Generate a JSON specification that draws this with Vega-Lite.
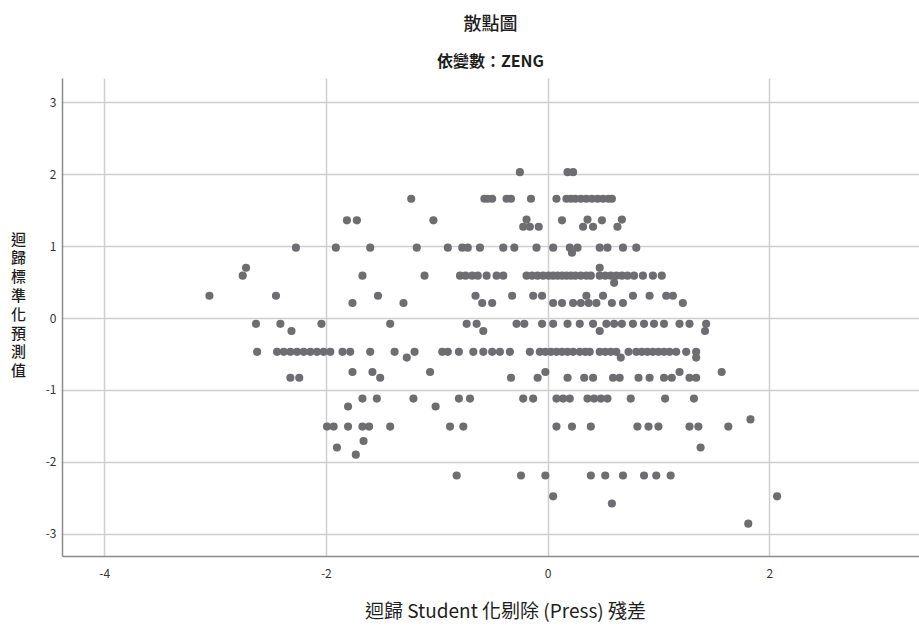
{
  "$schema": "https://vega.github.io/schema/vega-lite/v6.json",
  "width": 857,
  "height": 478,
  "autosize": {"type": "none"},
  "padding": {"left": 62, "top": 78, "right": 0, "bottom": 74},
  "background": "white",
  "title": {
    "text": "散點圖",
    "subtitle": "依變數：ZENG",
    "anchor": "middle",
    "font": "Liberation Sans Narrow, Noto Sans CJK TC",
    "fontSize": 18,
    "fontWeight": 500,
    "color": "#1e1e1e",
    "subtitleFont": "Liberation Sans Narrow, Noto Sans CJK TC",
    "subtitleFontSize": 16,
    "subtitleFontWeight": "bold",
    "subtitleColor": "#1e1e1e",
    "subtitlePadding": 20,
    "offset": 8
  },
  "config": {
    "view": {"stroke": null},
    "axis": {
      "grid": true,
      "gridColor": "#cfcfcf",
      "gridWidth": 1.5,
      "domainColor": "#8a8a8a",
      "domainWidth": 1.5,
      "ticks": false,
      "labelFont": "Liberation Sans Narrow, Noto Sans CJK TC",
      "labelFontSize": 12,
      "labelColor": "#333333",
      "labelExpr": "'' + datum.value",
      "titleFont": "Liberation Sans Narrow, Noto Sans CJK TC",
      "titleFontSize": 19,
      "titleFontWeight": "normal",
      "titleColor": "#1e1e1e"
    }
  },
  "data": {
    "values": [
      {"r": -0.25, "p": 2.03}, {"r": 0.18, "p": 2.03}, {"r": 0.23, "p": 2.03},
      {"r": -1.23, "p": 1.66}, {"r": -0.57, "p": 1.66}, {"r": -0.54, "p": 1.66}, {"r": -0.50, "p": 1.66}, {"r": -0.37, "p": 1.66}, {"r": -0.33, "p": 1.66}, {"r": -0.15, "p": 1.66}, {"r": 0.08, "p": 1.66}, {"r": 0.17, "p": 1.66}, {"r": 0.21, "p": 1.66}, {"r": 0.25, "p": 1.66}, {"r": 0.30, "p": 1.66}, {"r": 0.35, "p": 1.66}, {"r": 0.40, "p": 1.66}, {"r": 0.45, "p": 1.66}, {"r": 0.50, "p": 1.66}, {"r": 0.55, "p": 1.66}, {"r": 0.58, "p": 1.66},
      {"r": -1.81, "p": 1.36}, {"r": -1.72, "p": 1.36}, {"r": -1.03, "p": 1.36}, {"r": -0.19, "p": 1.37}, {"r": 0.13, "p": 1.36}, {"r": 0.36, "p": 1.37}, {"r": 0.49, "p": 1.36}, {"r": 0.67, "p": 1.37},
      {"r": -0.22, "p": 1.27}, {"r": -0.16, "p": 1.27}, {"r": -0.08, "p": 1.27}, {"r": 0.32, "p": 1.27}, {"r": 0.41, "p": 1.27}, {"r": 0.63, "p": 1.27},
      {"r": -2.27, "p": 0.98}, {"r": -1.91, "p": 0.98}, {"r": -1.60, "p": 0.98}, {"r": -1.18, "p": 0.98}, {"r": -0.90, "p": 0.98}, {"r": -0.77, "p": 0.98}, {"r": -0.72, "p": 0.98}, {"r": -0.61, "p": 0.98}, {"r": -0.40, "p": 0.98}, {"r": -0.30, "p": 0.98}, {"r": -0.10, "p": 0.98}, {"r": 0.05, "p": 0.98}, {"r": 0.20, "p": 0.98}, {"r": 0.27, "p": 0.98}, {"r": 0.47, "p": 0.98}, {"r": 0.54, "p": 0.98}, {"r": 0.68, "p": 0.98}, {"r": 0.80, "p": 0.98},
      {"r": 0.22, "p": 0.91},
      {"r": -2.72, "p": 0.70}, {"r": 0.47, "p": 0.70},
      {"r": -2.75, "p": 0.59}, {"r": -1.67, "p": 0.59}, {"r": -1.11, "p": 0.59}, {"r": -0.79, "p": 0.59}, {"r": -0.74, "p": 0.59}, {"r": -0.68, "p": 0.59}, {"r": -0.63, "p": 0.59}, {"r": -0.55, "p": 0.59}, {"r": -0.46, "p": 0.59}, {"r": -0.40, "p": 0.59}, {"r": -0.19, "p": 0.59}, {"r": -0.14, "p": 0.59}, {"r": -0.09, "p": 0.59}, {"r": -0.04, "p": 0.59}, {"r": 0.01, "p": 0.59}, {"r": 0.05, "p": 0.59}, {"r": 0.09, "p": 0.59}, {"r": 0.13, "p": 0.59}, {"r": 0.17, "p": 0.59}, {"r": 0.21, "p": 0.59}, {"r": 0.25, "p": 0.59}, {"r": 0.30, "p": 0.59}, {"r": 0.35, "p": 0.59}, {"r": 0.39, "p": 0.59}, {"r": 0.47, "p": 0.59}, {"r": 0.52, "p": 0.59}, {"r": 0.57, "p": 0.59}, {"r": 0.62, "p": 0.59}, {"r": 0.67, "p": 0.59}, {"r": 0.72, "p": 0.59}, {"r": 0.78, "p": 0.59}, {"r": 0.86, "p": 0.59}, {"r": 0.95, "p": 0.59}, {"r": 1.03, "p": 0.59},
      {"r": 0.60, "p": 0.49},
      {"r": -3.05, "p": 0.31}, {"r": -2.45, "p": 0.31}, {"r": -1.53, "p": 0.31}, {"r": -0.65, "p": 0.31}, {"r": -0.32, "p": 0.31}, {"r": -0.13, "p": 0.31}, {"r": -0.05, "p": 0.31}, {"r": 0.35, "p": 0.31}, {"r": 0.50, "p": 0.31}, {"r": 0.77, "p": 0.31}, {"r": 0.92, "p": 0.31}, {"r": 1.07, "p": 0.31}, {"r": 1.13, "p": 0.31},
      {"r": -1.76, "p": 0.21}, {"r": -1.30, "p": 0.21}, {"r": -0.59, "p": 0.21}, {"r": -0.50, "p": 0.21}, {"r": 0.05, "p": 0.21}, {"r": 0.13, "p": 0.21}, {"r": 0.23, "p": 0.21}, {"r": 0.30, "p": 0.21}, {"r": 0.37, "p": 0.21}, {"r": 0.44, "p": 0.21}, {"r": 0.58, "p": 0.21}, {"r": 0.68, "p": 0.21}, {"r": 1.22, "p": 0.21},
      {"r": -2.63, "p": -0.08}, {"r": -2.41, "p": -0.08}, {"r": -2.04, "p": -0.08}, {"r": -1.42, "p": -0.08}, {"r": -0.73, "p": -0.08}, {"r": -0.64, "p": -0.08}, {"r": -0.28, "p": -0.08}, {"r": -0.21, "p": -0.08}, {"r": -0.05, "p": -0.08}, {"r": 0.05, "p": -0.08}, {"r": 0.18, "p": -0.08}, {"r": 0.29, "p": -0.08}, {"r": 0.41, "p": -0.08}, {"r": 0.53, "p": -0.08}, {"r": 0.60, "p": -0.08}, {"r": 0.67, "p": -0.08}, {"r": 0.77, "p": -0.08}, {"r": 0.87, "p": -0.08}, {"r": 0.96, "p": -0.08}, {"r": 1.05, "p": -0.08}, {"r": 1.19, "p": -0.08}, {"r": 1.28, "p": -0.08}, {"r": 1.43, "p": -0.08},
      {"r": -2.31, "p": -0.18}, {"r": -0.58, "p": -0.18}, {"r": 0.47, "p": -0.18}, {"r": 1.42, "p": -0.18},
      {"r": -2.62, "p": -0.47}, {"r": -2.44, "p": -0.47}, {"r": -2.38, "p": -0.47}, {"r": -2.32, "p": -0.47}, {"r": -2.26, "p": -0.47}, {"r": -2.20, "p": -0.47}, {"r": -2.14, "p": -0.47}, {"r": -2.08, "p": -0.47}, {"r": -2.02, "p": -0.47}, {"r": -1.96, "p": -0.47}, {"r": -1.85, "p": -0.47}, {"r": -1.78, "p": -0.47}, {"r": -1.60, "p": -0.47}, {"r": -1.38, "p": -0.47}, {"r": -1.20, "p": -0.47}, {"r": -0.95, "p": -0.47}, {"r": -0.90, "p": -0.47}, {"r": -0.80, "p": -0.47}, {"r": -0.67, "p": -0.47}, {"r": -0.58, "p": -0.47}, {"r": -0.50, "p": -0.47}, {"r": -0.43, "p": -0.47}, {"r": -0.34, "p": -0.47}, {"r": -0.16, "p": -0.47}, {"r": -0.07, "p": -0.47}, {"r": -0.02, "p": -0.47}, {"r": 0.03, "p": -0.47}, {"r": 0.08, "p": -0.47}, {"r": 0.13, "p": -0.47}, {"r": 0.18, "p": -0.47}, {"r": 0.23, "p": -0.47}, {"r": 0.29, "p": -0.47}, {"r": 0.34, "p": -0.47}, {"r": 0.38, "p": -0.47}, {"r": 0.47, "p": -0.47}, {"r": 0.52, "p": -0.47}, {"r": 0.57, "p": -0.47}, {"r": 0.62, "p": -0.47}, {"r": 0.73, "p": -0.47}, {"r": 0.80, "p": -0.47}, {"r": 0.85, "p": -0.47}, {"r": 0.90, "p": -0.47}, {"r": 0.95, "p": -0.47}, {"r": 1.00, "p": -0.47}, {"r": 1.05, "p": -0.47}, {"r": 1.10, "p": -0.47}, {"r": 1.16, "p": -0.47}, {"r": 1.25, "p": -0.47}, {"r": 1.34, "p": -0.47},
      {"r": -1.27, "p": -0.55}, {"r": 0.66, "p": -0.55}, {"r": 1.34, "p": -0.55},
      {"r": -1.76, "p": -0.75}, {"r": -1.58, "p": -0.75}, {"r": -1.06, "p": -0.75}, {"r": -0.02, "p": -0.75}, {"r": 1.19, "p": -0.75}, {"r": 1.57, "p": -0.75},
      {"r": -2.32, "p": -0.83}, {"r": -2.24, "p": -0.83}, {"r": -1.51, "p": -0.83}, {"r": -0.33, "p": -0.83}, {"r": -0.09, "p": -0.83}, {"r": 0.18, "p": -0.83}, {"r": 0.33, "p": -0.83}, {"r": 0.41, "p": -0.83}, {"r": 0.59, "p": -0.83}, {"r": 0.65, "p": -0.83}, {"r": 0.82, "p": -0.83}, {"r": 0.92, "p": -0.83}, {"r": 1.05, "p": -0.83}, {"r": 1.12, "p": -0.83}, {"r": 1.28, "p": -0.83}, {"r": 1.34, "p": -0.83},
      {"r": -1.67, "p": -1.12}, {"r": -1.54, "p": -1.12}, {"r": -1.21, "p": -1.12}, {"r": -0.80, "p": -1.12}, {"r": -0.70, "p": -1.12}, {"r": -0.22, "p": -1.12}, {"r": -0.13, "p": -1.12}, {"r": 0.08, "p": -1.12}, {"r": 0.14, "p": -1.12}, {"r": 0.20, "p": -1.12}, {"r": 0.36, "p": -1.12}, {"r": 0.42, "p": -1.12}, {"r": 0.48, "p": -1.12}, {"r": 0.54, "p": -1.12}, {"r": 0.75, "p": -1.12}, {"r": 1.06, "p": -1.12}, {"r": 1.32, "p": -1.12},
      {"r": -1.80, "p": -1.23}, {"r": -1.01, "p": -1.23},
      {"r": 1.83, "p": -1.41},
      {"r": -1.99, "p": -1.51}, {"r": -1.93, "p": -1.51}, {"r": -1.80, "p": -1.51}, {"r": -1.67, "p": -1.51}, {"r": -1.61, "p": -1.51}, {"r": -1.42, "p": -1.51}, {"r": -0.88, "p": -1.51}, {"r": -0.76, "p": -1.51}, {"r": 0.08, "p": -1.51}, {"r": 0.22, "p": -1.51}, {"r": 0.39, "p": -1.51}, {"r": 0.81, "p": -1.51}, {"r": 0.91, "p": -1.51}, {"r": 1.00, "p": -1.51}, {"r": 1.28, "p": -1.51}, {"r": 1.36, "p": -1.51}, {"r": 1.63, "p": -1.51},
      {"r": -1.66, "p": -1.71},
      {"r": -1.90, "p": -1.80}, {"r": 1.38, "p": -1.80},
      {"r": -1.73, "p": -1.90},
      {"r": -0.82, "p": -2.19}, {"r": -0.24, "p": -2.19}, {"r": -0.02, "p": -2.19}, {"r": 0.39, "p": -2.19}, {"r": 0.52, "p": -2.19}, {"r": 0.68, "p": -2.19}, {"r": 0.87, "p": -2.19}, {"r": 0.98, "p": -2.19}, {"r": 1.11, "p": -2.19},
      {"r": 0.05, "p": -2.48}, {"r": 2.07, "p": -2.48},
      {"r": 0.58, "p": -2.58},
      {"r": 1.81, "p": -2.86}
    ]
  },
  "mark": {"type": "point", "shape": "circle", "filled": true, "size": 66, "color": "#6d6d72", "opacity": 1},
  "encoding": {
    "x": {
      "field": "r", "type": "quantitative",
      "scale": {"domain": [-4.38, 3.35], "nice": false, "zero": false},
      "axis": {"values": [-4, -2, 0, 2], "title": "迴歸 Student 化剔除 (Press) 殘差", "labelPadding": 12, "titleX": 443, "titleY": 55, "titleBaseline": "middle", "titleAlign": "center"}
    },
    "y": {
      "field": "p", "type": "quantitative",
      "scale": {"domain": [-3.31, 3.34], "nice": false, "zero": false},
      "axis": {"values": [-3, -2, -1, 0, 1, 2, 3], "title": ["迴", "歸", "標", "準", "化", "預", "測", "值"], "titleAngle": 0, "titleFontSize": 15, "titleFontWeight": 500, "titleX": -44, "titleY": 154, "titleBaseline": "top", "titleAlign": "center", "titleLineHeight": 18.8, "labelPadding": 6}
    }
  }
}
